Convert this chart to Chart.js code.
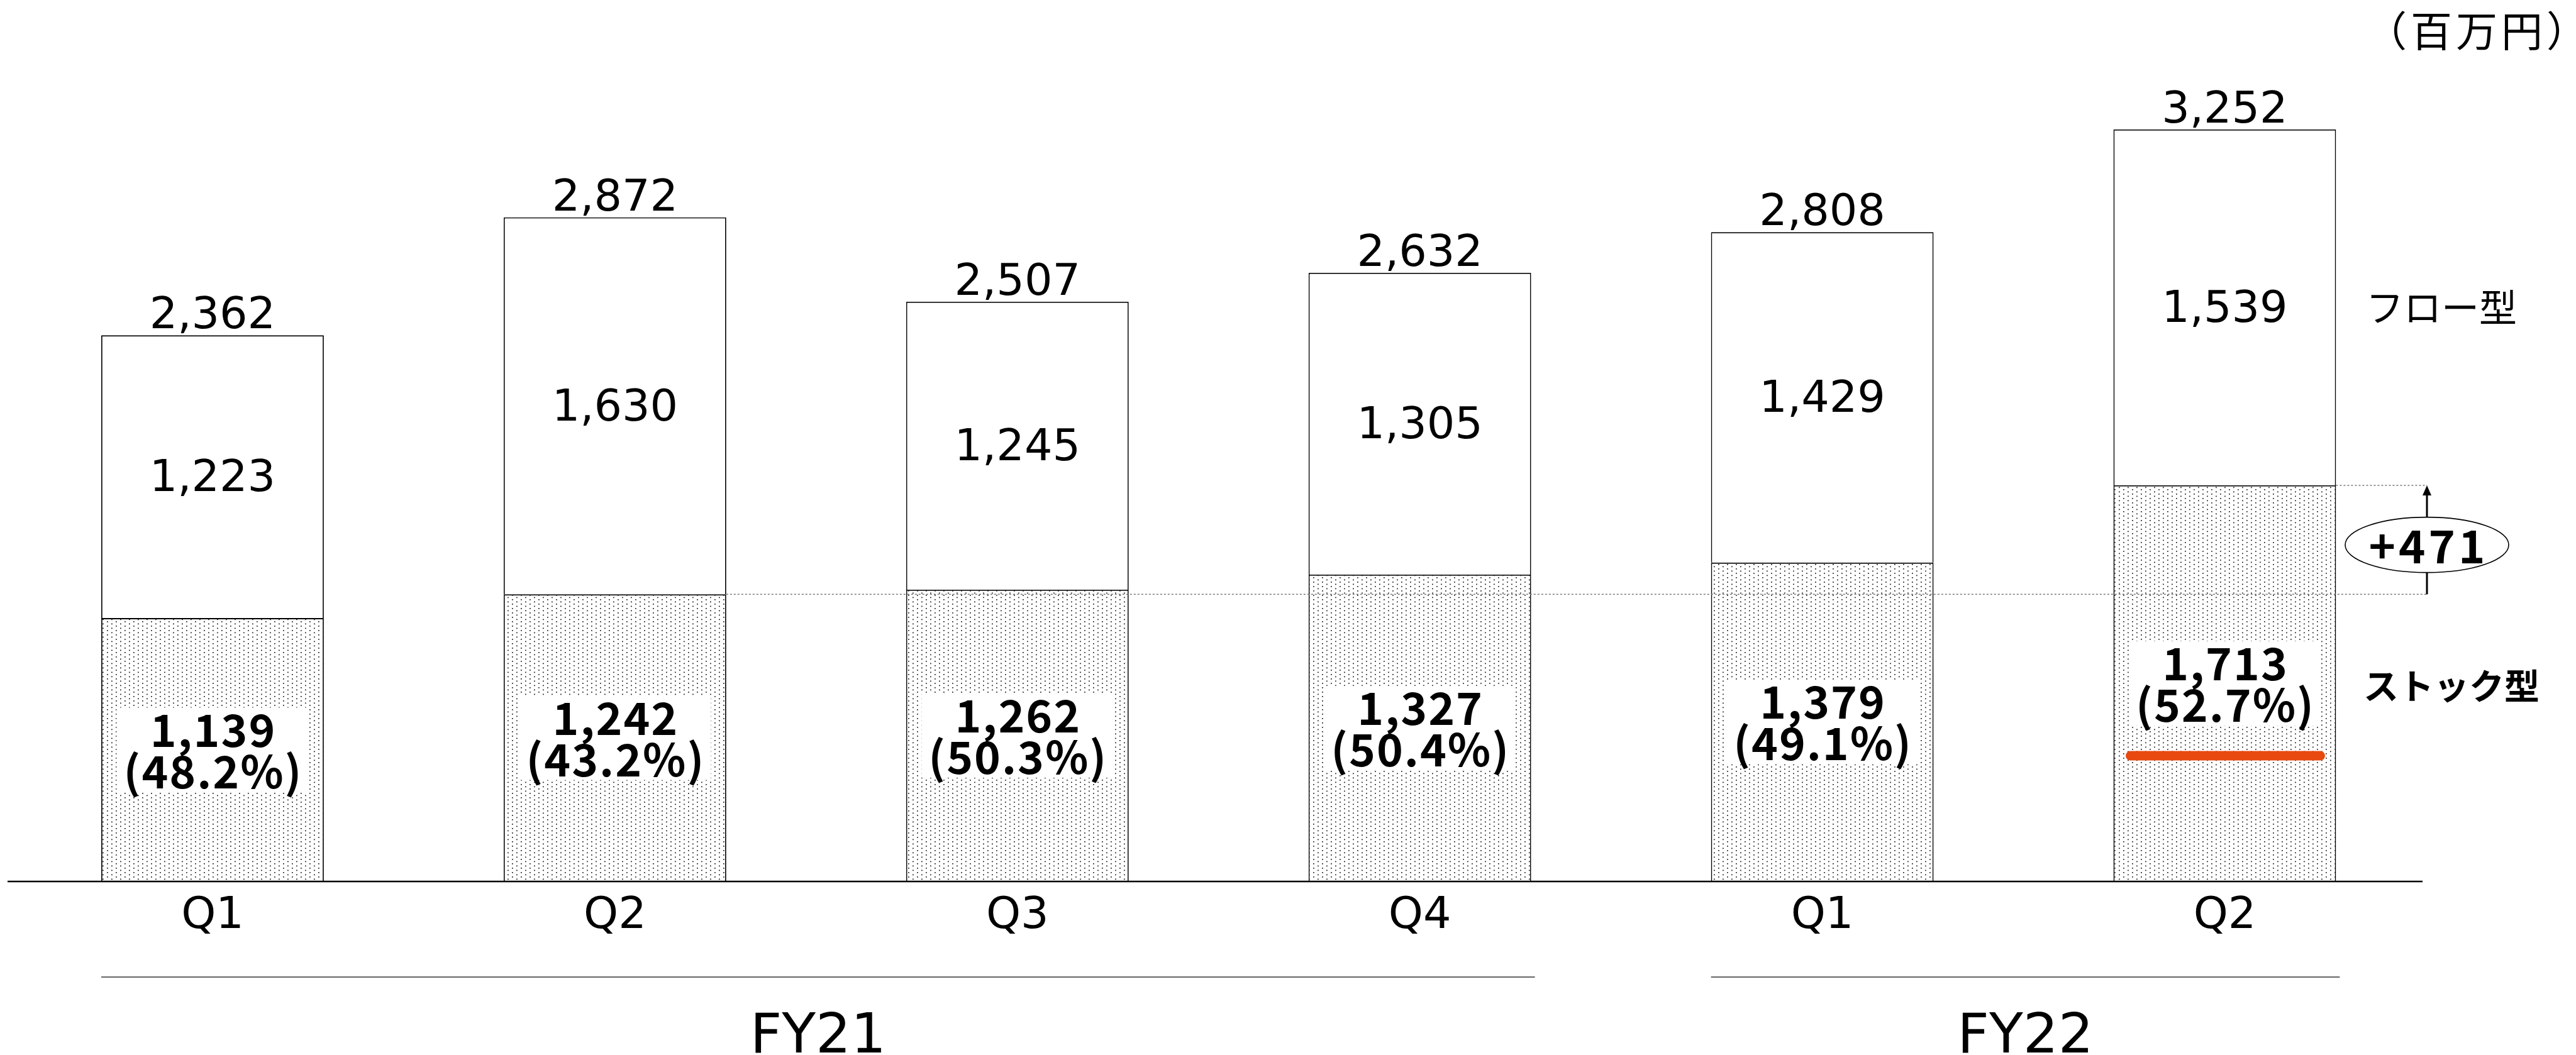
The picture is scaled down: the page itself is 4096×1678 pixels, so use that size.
<!DOCTYPE html>
<html>
<head>
<meta charset="utf-8">
<script src="https://cdn.jsdelivr.net/npm/chart.js@4.4.1/dist/chart.umd.min.js"></script>
<style>
  html, body { margin: 0; padding: 0; background: #ffffff; overflow: hidden; }
  canvas { display: block; }
</style>
</head>
<body>
<canvas id="salesChart" width="4096" height="1678"></canvas>
<script>
// Quarterly sales split into recurring (stock) and one-off (flow) revenue, in millions of yen
const quarterLabels = ['Q1', 'Q2', 'Q3', 'Q4', 'Q1', 'Q2'];
const fiscalYearLabels = ['FY21', 'FY22'];
const fiscalYearFirst = [0, 4];
const fiscalYearLast = [3, 5];
const stockValues = [1139, 1242, 1262, 1327, 1379, 1713];
const flowValues = [1223, 1630, 1245, 1305, 1429, 1539];
const stockShares = [48.2, 43.2, 50.3, 50.4, 49.1, 52.7];
const seriesNames = ['ストック型', 'フロー型'];
const unitChars = ['（', '百', '万', '円', '）'];
const compareFrom = 1;
const compareTo = 5;

const JP = '"Noto Sans CJK JP", "Noto Sans", sans-serif';
const LATIN = '"DejaVu Sans", "Noto Sans", sans-serif';
const fmt = v => v.toLocaleString('en-US');

// Fine staggered dot screen used for the stock segments
function dotPattern() {
  const tile = document.createElement('canvas');
  tile.width = 14; tile.height = 7;
  const g = tile.getContext('2d');
  g.fillStyle = '#ffffff';
  g.fillRect(0, 0, 14, 7);
  g.fillStyle = '#1a1a1a';
  g.fillRect(2, 1, 1.7, 1.7);
  g.fillRect(9, 4.5, 1.7, 1.7);
  return g.createPattern(tile, 'repeat');
}

const overlay = {
  id: 'overlay',
  afterDatasetsDraw(chart) {
    const ctx = chart.ctx;
    const x = chart.scales.x;
    const y = chart.scales.y;
    const stockBars = chart.getDatasetMeta(0).data;
    const flowBars = chart.getDatasetMeta(1).data;
    ctx.save();
    ctx.fillStyle = '#000';
    ctx.textAlign = 'center';

    // flow values and totals
    flowBars.forEach((bar, i) => {
      ctx.font = `400 70px ${LATIN}`;
      ctx.textBaseline = 'middle';
      ctx.fillText(fmt(flowValues[i]), bar.x, (bar.y + bar.base) / 2 + 5);
      ctx.textBaseline = 'alphabetic';
      ctx.fillText(fmt(stockValues[i] + flowValues[i]), bar.x, bar.y - 11);
    });

    // stock values with share, on a white plate
    stockBars.forEach((bar, i) => {
      const mid = (bar.y + bar.base) / 2;
      ctx.fillStyle = '#ffffff';
      ctx.fillRect(bar.x - 152.5, mid - 67, 305, 134);
      ctx.fillStyle = '#000';
      ctx.font = `700 71px ${JP}`;
      ctx.textBaseline = 'alphabetic';
      ctx.letterSpacing = '2px';
      ctx.fillText(fmt(stockValues[i]), bar.x + 1, mid - 5);
      ctx.fillText(`(${stockShares[i].toFixed(1)}%)`, bar.x + 1, mid + 61);
      ctx.letterSpacing = '0px';
    });

    // highlight under the latest stock figure
    const last = stockBars[compareTo];
    const lastMid = (last.y + last.base) / 2;
    ctx.strokeStyle = '#e8490f';
    ctx.lineWidth = 15;
    ctx.lineCap = 'round';
    ctx.beginPath();
    ctx.moveTo(last.x - 150, lastMid + 115);
    ctx.lineTo(last.x + 152, lastMid + 115);
    ctx.stroke();

    // reference lines for the stock increase
    const arrowX = 3859;
    const yLow = y.getPixelForValue(stockValues[compareFrom]);
    const yHigh = y.getPixelForValue(stockValues[compareTo]);
    const fromBar = stockBars[compareFrom];
    ctx.strokeStyle = '#7a7a7a';
    ctx.lineWidth = 1.5;
    ctx.lineCap = 'butt';
    ctx.setLineDash([3, 3]);
    ctx.beginPath();
    ctx.moveTo(fromBar.x + fromBar.width / 2, yLow);
    ctx.lineTo(arrowX, yLow);
    ctx.moveTo(last.x + last.width / 2, yHigh);
    ctx.lineTo(arrowX, yHigh);
    ctx.stroke();
    ctx.setLineDash([]);

    // arrow with the difference in an ellipse
    const ex = arrowX, ey = (yLow + yHigh) / 2 + 8, rx = 130, ry = 44;
    ctx.strokeStyle = '#000';
    ctx.lineWidth = 3;
    ctx.beginPath();
    ctx.moveTo(ex, ey - ry);
    ctx.lineTo(ex, yHigh + 14);
    ctx.moveTo(ex, ey + ry);
    ctx.lineTo(ex, yLow);
    ctx.stroke();
    ctx.fillStyle = '#000';
    ctx.beginPath();
    ctx.moveTo(ex, yHigh);
    ctx.lineTo(ex - 7, yHigh + 16);
    ctx.lineTo(ex + 7, yHigh + 16);
    ctx.closePath();
    ctx.fill();
    ctx.fillStyle = '#fff';
    ctx.lineWidth = 1.6;
    ctx.beginPath();
    ctx.ellipse(ex, ey, rx, ry, 0, 0, Math.PI * 2);
    ctx.fill();
    ctx.stroke();
    ctx.fillStyle = '#000';
    ctx.font = `700 72px ${JP}`;
    ctx.textBaseline = 'middle';
    ctx.letterSpacing = '5px';
    ctx.fillText('+' + fmt(stockValues[compareTo] - stockValues[compareFrom]), ex + 2.5, ey + 2);
    ctx.letterSpacing = '0px';

    // series names beside the latest bar
    const lastFlow = flowBars[compareTo];
    ctx.textAlign = 'left';
    ctx.font = `400 60px ${JP}`;
    ctx.fillText(seriesNames[1], 3762, (lastFlow.y + lastFlow.base) / 2);
    ctx.font = `700 56px ${JP}`;
    ctx.fillText(seriesNames[0], 3758, lastMid + 4);

    // unit
    ctx.textAlign = 'center';
    ctx.font = `400 66px ${JP}`;
    unitChars.forEach((ch, i) => ctx.fillText(ch, 3794 + i * 72, 49));

    // quarter labels
    ctx.font = `400 70px ${LATIN}`;
    quarterLabels.forEach((q, i) => ctx.fillText(q, x.getPixelForValue(i), 1458));

    // fiscal year brackets
    ctx.strokeStyle = '#666';
    ctx.lineWidth = 2;
    ctx.font = `400 88px ${LATIN}`;
    ctx.textBaseline = 'alphabetic';
    fiscalYearLabels.forEach((fy, k) => {
      const a = stockBars[fiscalYearFirst[k]];
      const b = stockBars[fiscalYearLast[k]];
      const x0 = a.x - a.width / 2, x1 = b.x + b.width / 2 + 6;
      ctx.beginPath();
      ctx.moveTo(x0, 1554);
      ctx.lineTo(x1, 1554);
      ctx.stroke();
      ctx.fillText(fy, (x0 + x1) / 2, 1674);
    });

    // baseline
    ctx.strokeStyle = '#000';
    ctx.lineWidth = 2.5;
    ctx.beginPath();
    ctx.moveTo(12, y.getPixelForValue(0));
    ctx.lineTo(3852, y.getPixelForValue(0));
    ctx.stroke();

    ctx.restore();
  }
};

new Chart(document.getElementById('salesChart'), {
  type: 'bar',
  data: {
    labels: quarterLabels,
    datasets: [
      {
        label: seriesNames[0],
        data: stockValues,
        backgroundColor: dotPattern(),
        borderColor: '#000',
        borderWidth: 1.8
      },
      {
        label: seriesNames[1],
        data: flowValues,
        backgroundColor: '#ffffff',
        borderColor: '#000',
        borderWidth: 1.8
      }
    ]
  },
  options: {
    responsive: false,
    devicePixelRatio: 1,
    animation: false,
    layout: { padding: { left: 18, right: 238.6, top: 4.5, bottom: 276 } },
    datasets: { bar: { categoryPercentage: 1, barPercentage: 0.553 } },
    scales: {
      x: { stacked: true, display: false, offset: true, grid: { display: false } },
      y: { stacked: true, display: false, min: 0, max: 3800 }
    },
    plugins: { legend: { display: false }, tooltip: { enabled: false } }
  },
  plugins: [overlay]
});
</script>
</body>
</html>
